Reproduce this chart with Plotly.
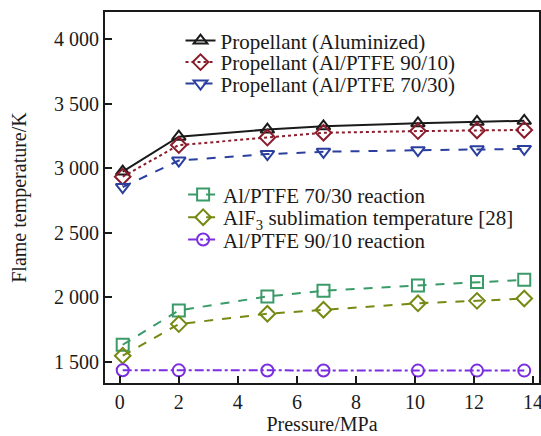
import plotly.graph_objects as go

pressure = [0.1, 2.0, 5.0, 6.9, 10.1, 12.1, 13.7]
aluminized = [2975, 3245, 3300, 3325, 3348, 3360, 3368]
ptfe_90_10 = [2935, 3180, 3238, 3275, 3288, 3293, 3297]
ptfe_70_30 = [2855, 3060, 3110, 3128, 3140, 3147, 3150]
react_70_30 = [1634, 1900, 2008, 2052, 2093, 2120, 2137]
alf3_subl = [1549, 1794, 1874, 1905, 1955, 1974, 1992]
react_90_10 = [1437, 1436, 1435, 1435, 1434, 1434, 1434]

ytick_vals = [1500, 2000, 2500, 3000, 3500, 4000]
ytick_text = ["1 500", "2 000", "2 500", "3 000", "3 500", "4 000"]
xtick_vals = [0, 2, 4, 6, 8, 10, 12, 14]

FONT = "Liberation Serif, Times New Roman, serif"
INK = "#1a1a1a"

series = [
    ("Propellant (Aluminized)", aluminized, "#1a1a1a", "solid", "triangle-up-open"),
    ("Propellant (Al/PTFE 90/10)", ptfe_90_10, "#8b1c2c", "dot", "diamond-open"),
    ("Propellant (Al/PTFE 70/30)", ptfe_70_30, "#2b3f9e", "dash", "triangle-down-open"),
    ("Al/PTFE 70/30 reaction", react_70_30, "#3a9a68", "dash", "square-open"),
    ("AlF<sub>3</sub> sublimation temperature [28]", alf3_subl, "#748a12", "dash", "diamond-open"),
    ("Al/PTFE 90/10 reaction", react_90_10, "#7a2ee0", "dashdot", "circle-open"),
]

# legend row positions (paper fraction)
legend_pos = [(0.174, 0.922), (0.174, 0.864), (0.174, 0.806),
              (0.180, 0.507), (0.180, 0.446), (0.180, 0.386)]

fig = go.Figure()
layout_legends = {}
for i, (name, vals, color, dash, symbol) in enumerate(series):
    key = "legend" if i == 0 else f"legend{i + 1}"
    fig.add_trace(go.Scatter(
        x=pressure, y=vals, name=name, mode="lines+markers",
        line=dict(color=color, width=2, dash=dash),
        marker=dict(symbol=symbol, size=12, color=color, line=dict(width=2, color=color)),
        legend=key,
    ))
    lx, ly = legend_pos[i]
    layout_legends[key] = dict(x=lx, y=ly, xanchor="left", yanchor="middle",
                               bgcolor="rgba(0,0,0,0)",
                               font=dict(family=FONT, size=21, color=INK),
                               itemwidth=30)

fig.update_layout(
    width=541, height=436,
    margin=dict(l=105, r=2, t=12, b=53, autoexpand=False),
    paper_bgcolor="white", plot_bgcolor="white",
    font=dict(family=FONT, size=20, color=INK),
    showlegend=True,
    **layout_legends,
)
fig.update_xaxes(
    range=[-0.5, 14.2], tickvals=xtick_vals,
    ticks="inside", ticklen=7, tickwidth=1.5, tickcolor=INK,
    showline=True, linecolor=INK, linewidth=2, mirror=True,
    showgrid=False, zeroline=False, automargin=False,
    ticklabeloverflow="allow",
    title=dict(text="Pressure/MPa", font=dict(family=FONT, size=20), standoff=2),
    tickfont=dict(family=FONT, size=20),
)
fig.update_yaxes(
    range=[1338, 4210], tickvals=ytick_vals, ticktext=ytick_text,
    ticks="inside", ticklen=7, tickwidth=1.5, tickcolor=INK,
    showline=True, linecolor=INK, linewidth=2, mirror=True,
    showgrid=False, zeroline=False, automargin=False,
    ticklabeloverflow="allow",
    title=dict(text="Flame temperature/K", font=dict(family=FONT, size=20), standoff=22),
    tickfont=dict(family=FONT, size=20),
)

fig.write_html("out.html", config={"displayModeBar": False},
               post_script="document.body.style.margin='0';")
